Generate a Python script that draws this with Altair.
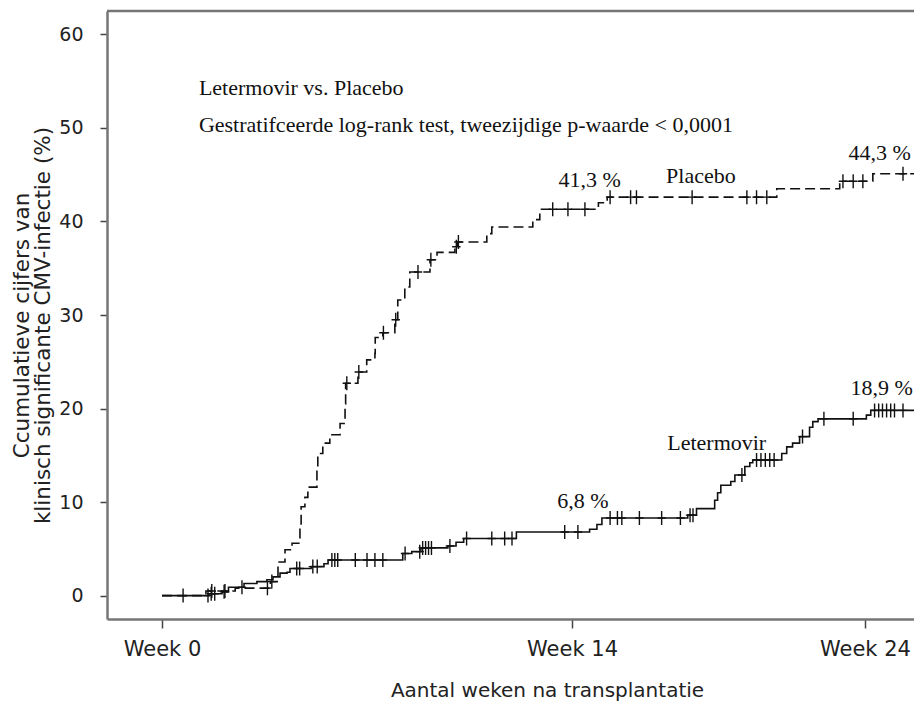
import altair as alt
import pandas as pd

# ---------------- data ----------------
# Placebo cumulative incidence steps (weeks, %)
placebo_weeks = [0, 1.5, 2.5, 3.7, 3.96, 4.2, 4.44, 4.71, 4.75, 4.88, 4.98, 5.29, 5.32,
                 5.49, 5.73, 6.08, 6.25, 6.27, 6.69, 6.99, 7.27, 7.28, 7.54, 7.95, 8.05,
                 8.29, 8.46, 9.15, 9.39, 10.0, 10.1, 11.09, 11.26, 12.66, 12.9, 14.9,
                 15.2, 20.99, 23.14, 24.27, 25.95]
placebo_pct = [0, 0.5, 0.8, 1.5, 3.6, 4.9, 5.6, 7.5, 9.5, 10.5, 11.6, 13.5, 15.2,
               16.3, 17.2, 18.4, 20.5, 22.7, 23.9, 25.2, 25.9, 27.6, 28.1, 29.5, 31.6,
               33.0, 34.6, 35.9, 36.7, 37.3, 37.8, 38.7, 39.4, 40.2, 41.3, 42.0,
               42.6, 43.5, 44.3, 45.1, 45.1]
placebo_censor = [1.7, 2.15, 3.6, 3.75, 6.31, 6.72, 7.56, 7.98, 8.74, 9.18, 10.05, 10.12,
                  13.34, 13.86, 14.44, 15.3, 16.0, 16.2, 18.1, 19.97, 20.3, 20.65,
                  23.25, 23.6, 23.93, 25.3]

# Letermovir cumulative incidence steps (weeks, %)
leter_weeks = [0, 1.6, 2.05, 2.27, 2.8, 3.24, 3.58, 3.79, 4.03, 4.27, 4.37, 5.09, 5.53,
               5.67, 8.22, 8.53, 8.84, 9.76, 10.04, 10.3, 12.1, 14.6, 14.85, 15.02,
               17.95, 18.25, 18.87, 18.97, 19.08, 19.42, 19.56, 19.9, 20.07, 20.17,
               21.16, 21.33, 21.53, 21.77, 22.11, 22.22, 22.4, 24.05, 24.2, 25.8, 25.95]
leter_pct = [0, 0.2, 0.4, 0.9, 1.3, 1.5, 1.7, 2.0, 2.4, 2.5, 2.9, 3.1, 3.4,
             3.8, 4.5, 4.7, 5.1, 5.3, 5.7, 6.1, 6.8, 7.1, 7.6, 8.3,
             8.6, 9.3, 10.2, 11.0, 11.8, 12.2, 12.9, 13.8, 14.2, 14.5,
             15.2, 15.9, 16.3, 17.0, 18.0, 18.6, 18.9, 19.3, 19.8, 20.2, 20.2]
leter_censor = [0.72, 1.57, 1.68, 1.8, 2.12, 2.73, 4.6, 4.7, 5.15, 5.3, 5.8, 5.9, 6.0,
                6.6, 7.0, 7.27, 7.54, 8.3, 8.8, 8.9, 9.0, 9.1, 9.2, 9.83, 10.4, 11.26,
                11.7, 11.95, 13.75, 14.2, 15.3, 15.55, 15.7, 16.3, 17.06, 17.7, 18.03,
                18.13, 19.8, 20.3, 20.45, 20.6, 20.75, 20.9, 21.87, 22.6, 23.6, 24.33,
                24.47, 24.6, 24.74, 24.88, 25.01, 25.3]

x_ticks = [0, 14, 24]
y_ticks = [0, 10, 20, 30, 40, 50, 60]

header_lines = ["Letermovir vs. Placebo",
                "Gestratifceerde  log-rank test, tweezijdige p-waarde < 0,0001"]
header_x = [1.26, 1.26]
header_y = [53.5, 49.55]

label_text = ["41,3 %", "Placebo", "44,3 %", "18,9 %", "Letermovir", "6,8 %"]
label_x = [14.6, 18.4, 24.5, 24.57, 18.94, 14.37]
label_y = [43.7, 44.1, 46.55, 21.45, 15.55, 9.35]

y_title = ["Ccumulatieve cijfers van", "klinisch significante CMV-infectie (%)"]
x_title = "Aantal weken na transplantatie"


def value_at(weeks, pct, t):
    v = pct[0]
    for w, p in zip(weeks, pct):
        if w <= t:
            v = p
    return v


placebo_df = pd.DataFrame({"week": placebo_weeks, "pct": placebo_pct})
leter_df = pd.DataFrame({"week": leter_weeks, "pct": leter_pct})
censor_df = pd.DataFrame(
    {"week": placebo_censor + leter_censor,
     "pct": [value_at(placebo_weeks, placebo_pct, t) for t in placebo_censor]
     + [value_at(leter_weeks, leter_pct, t) for t in leter_censor]})
header_df = pd.DataFrame({"week": header_x, "pct": header_y, "text": header_lines})
label_df = pd.DataFrame({"week": label_x, "pct": label_y, "text": label_text})

# ---------------- chart ----------------
W, H = 807, 608
FRAME = "#767676"
INK = "#111111"

x_enc = alt.X("week:Q",
              scale=alt.Scale(domain=[-1.878, 25.676], nice=False, zero=False),
              axis=alt.Axis(values=x_ticks, labelExpr="'Week ' + datum.value",
                            title=x_title, grid=False, labelFlush=False,
                            labelOverlap=False,
                            domainColor=FRAME, domainWidth=2.5,
                            tickColor="#444444", tickWidth=1.5, tickSize=9,
                            labelFont="DejaVu Sans", labelFontSize=21,
                            labelColor="#222222", labelBaseline="alphabetic",
                            labelPadding=27,
                            titleFont="DejaVu Sans", titleFontSize=20,
                            titleFontWeight="normal", titleColor="#222222",
                            titleX=440, titleY=77, titleBaseline="alphabetic",
                            titleAlign="center"))
y_enc = alt.Y("pct:Q",
              scale=alt.Scale(domain=[-2.5, 62.5], nice=False, zero=False),
              axis=alt.Axis(values=y_ticks, title=y_title, grid=False,
                            labelFlush=False, labelOverlap=False,
                            domainColor=FRAME, domainWidth=2.5,
                            tickColor="#444444", tickWidth=1.5, tickSize=7,
                            labelFont="DejaVu Sans", labelFontSize=19,
                            labelColor="#222222", labelPadding=17,
                            titleFont="DejaVu Sans", titleFontSize=21.5,
                            titleFontWeight="normal", titleColor="#222222",
                            titleAngle=270, titleX=-79, titleY=314,
                            titleBaseline="alphabetic", titleAlign="center",
                            titleLineHeight=21))

placebo_line = alt.Chart(placebo_df).mark_line(
    interpolate="step-after", color=INK, strokeWidth=1.6, strokeDash=[10, 5], clip=True
).encode(x=x_enc, y=y_enc)

leter_line = alt.Chart(leter_df).mark_line(
    interpolate="step-after", color=INK, strokeWidth=1.6, clip=True
).encode(x=x_enc, y=y_enc)

censors = alt.Chart(censor_df).mark_point(
    shape="M0,-1L0,1M-0.6,0L0.6,0", size=196, filled=False, color=INK,
    strokeWidth=1.4, opacity=1, clip=True
).encode(x=x_enc, y=y_enc)

headers = alt.Chart(header_df).mark_text(
    font="Liberation Serif", fontSize=22, align="left", baseline="alphabetic",
    color=INK
).encode(x=x_enc, y=y_enc, text="text:N")

labels = alt.Chart(label_df).mark_text(
    font="Liberation Serif", fontSize=22, align="center", baseline="alphabetic",
    color=INK
).encode(x=x_enc, y=y_enc, text="text:N")

top_frame = alt.Chart(pd.DataFrame({"a": [0]})).mark_rule(
    color=FRAME, strokeWidth=2.5
).encode(x=alt.value(0), x2=alt.value(W), y=alt.value(0))

chart = alt.layer(
    top_frame, placebo_line, leter_line, censors, headers, labels
).properties(
    width=W, height=H,
    autosize=alt.AutoSizeParams(type="none"),
    padding={"left": 99, "top": 3, "right": 0, "bottom": 84},
    background="white",
).configure_view(stroke=None)

chart.save("out.html", embed_options={"renderer": "svg", "actions": False})
